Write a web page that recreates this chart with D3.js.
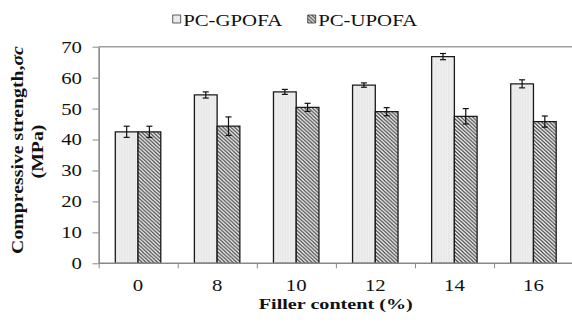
<!DOCTYPE html>
<html>
<head>
<meta charset="utf-8">
<script src="https://cdn.jsdelivr.net/npm/d3@7"></script>
<style>
  html, body { margin: 0; padding: 0; background: #fff; }
  svg { display: block; }
  text { font-family: "Liberation Serif", "Times New Roman", serif; fill: #111; }
</style>
</head>
<body>
<div id="chart"></div>
<script>
// Compressive strength vs filler content
const categories = ["0", "8", "10", "12", "14", "16"];
const seriesNames = ["PC-GPOFA", "PC-UPOFA"];
const gpofa = [42.5, 54.4, 55.4, 57.6, 66.8, 58.0];
const upofa = [42.5, 44.3, 50.4, 49.0, 47.5, 45.8];
const gpofaErr = [1.8, 1.0, 0.8, 0.7, 1.0, 1.3];
const upofaErr = [1.8, 3.0, 1.3, 1.3, 2.5, 1.8];
const yTicks = [0, 10, 20, 30, 40, 50, 60, 70];

// The drawing is laid out in a horizontally compressed space and stretched
// back out to the page width, giving the wide serif lettering.
const SX = 1.3;
const PW = 572, PH = 324;
const W = PW / SX, H = PH;

const plot = { left: 98.5 / SX, right: 573 / SX, top: 46.7, bottom: 263.3 };

const svg = d3.select("#chart").append("svg")
  .attr("width", PW).attr("height", PH)
  .attr("viewBox", [0, 0, W, H])
  .attr("preserveAspectRatio", "none");

const defs = svg.append("defs");
// light stippled fill
const dots = defs.append("pattern").attr("id", "dots")
  .attr("patternUnits", "userSpaceOnUse").attr("width", 2).attr("height", 3);
dots.append("rect").attr("width", 2).attr("height", 3).attr("fill", "#f0f0f0");
dots.append("rect").attr("x", 1).attr("y", 0).attr("width", 0.6).attr("height", 3).attr("fill", "#e0e0e0");
// diagonal hatch fill
const hatch = defs.append("pattern").attr("id", "hatch")
  .attr("patternUnits", "userSpaceOnUse").attr("width", 3).attr("height", 3.6);
hatch.append("rect").attr("width", 3).attr("height", 3.6).attr("fill", "#ffffff");
hatch.append("path")
  .attr("d", "M-1,-1.2 L4,4.8 M-4,-1.2 L1,4.8 M2,-1.2 L7,4.8")
  .attr("stroke", "#3a3a3a").attr("stroke-width", 1.05);

const fills = ["url(#dots)", "url(#hatch)"];

const x0 = d3.scaleBand().domain(categories).range([plot.left, plot.right]).padding(0);
const groupW = x0.bandwidth() * 0.575;
const x1 = d3.scaleBand().domain(seriesNames).range([0, groupW]).padding(0);
const y = d3.scaleLinear().domain([0, 70]).range([plot.bottom, plot.top]);

// top line at the axis maximum
svg.append("line")
  .attr("x1", plot.left).attr("x2", W)
  .attr("y1", y(70)).attr("y2", y(70))
  .attr("stroke", "#a0a0a0").attr("stroke-width", 1.4)
  .attr("vector-effect", "non-scaling-stroke");

// y axis
const yAxis = svg.append("g")
  .attr("transform", `translate(${plot.left},0)`)
  .call(d3.axisLeft(y).tickValues(yTicks).tickSize(6 / SX).tickSizeOuter(0).tickPadding(0));
yAxis.select(".domain").attr("stroke", "#888").attr("stroke-width", 1.6).attr("vector-effect", "non-scaling-stroke");
yAxis.selectAll(".tick line").attr("stroke", "#888").attr("stroke-width", 1).attr("vector-effect", "non-scaling-stroke");
yAxis.selectAll(".tick text")
  .attr("x", -16.5 / SX).attr("dy", "0.34em")
  .attr("font-size", 16).attr("fill", "#111");

// bars
const data = categories.map((c, i) => ({
  cat: c,
  vals: [
    { s: seriesNames[0], v: gpofa[i], e: gpofaErr[i], k: 0 },
    { s: seriesNames[1], v: upofa[i], e: upofaErr[i], k: 1 }
  ]
}));

const groups = svg.append("g").selectAll("g").data(data).join("g")
  .attr("transform", d => `translate(${x0(d.cat) + (x0.bandwidth() - groupW) / 2},0)`);

groups.selectAll("rect").data(d => d.vals).join("rect")
  .attr("x", d => x1(d.s))
  .attr("width", x1.bandwidth())
  .attr("y", d => y(d.v))
  .attr("height", d => y(0) - y(d.v))
  .attr("fill", d => fills[d.k])
  .attr("stroke", "#1a1a1a").attr("stroke-width", 1.3)
  .attr("vector-effect", "non-scaling-stroke");

// error bars
const capHalf = 3 / SX;
const eb = groups.selectAll("g.err").data(d => d.vals).join("g").attr("class", "err")
  .attr("transform", d => `translate(${x1(d.s) + x1.bandwidth() / 2},0)`);
eb.append("line").attr("y1", d => y(d.v + d.e)).attr("y2", d => y(d.v - d.e));
eb.append("line").attr("x1", -capHalf).attr("x2", capHalf).attr("y1", d => y(d.v + d.e)).attr("y2", d => y(d.v + d.e));
eb.append("line").attr("x1", -capHalf).attr("x2", capHalf).attr("y1", d => y(d.v - d.e)).attr("y2", d => y(d.v - d.e));
eb.selectAll("line").attr("stroke", "#111").attr("stroke-width", 1.2).attr("vector-effect", "non-scaling-stroke");

// x axis: labels at category centres, ticks at category boundaries
const xAxis = svg.append("g")
  .attr("transform", `translate(0,${plot.bottom})`)
  .call(d3.axisBottom(x0).tickSize(0).tickPadding(16));
xAxis.select(".domain").remove();
xAxis.selectAll(".tick text").attr("font-size", 16).attr("fill", "#111");

const edges = d3.scaleLinear().domain([0, categories.length]).range([plot.left, plot.right]);
const xEdges = svg.append("g")
  .attr("transform", `translate(0,${plot.bottom})`)
  .call(d3.axisBottom(edges).tickValues(d3.range(categories.length + 1)).tickFormat("").tickSize(5).tickSizeOuter(0));
xEdges.select(".domain").attr("d", `M${plot.left},0H${W}`)
  .attr("stroke", "#888").attr("stroke-width", 1.6).attr("vector-effect", "non-scaling-stroke");
xEdges.selectAll(".tick line").attr("stroke", "#888").attr("stroke-width", 1).attr("vector-effect", "non-scaling-stroke");

// axis titles
svg.append("text")
  .attr("x", (plot.left + plot.right) / 2).attr("y", 309.5)
  .attr("text-anchor", "middle").attr("font-size", 15.5).attr("font-weight", "bold")
  .text("Filler content (%)");

// rotated title, narrower across its lines than along them
const yScaleT = 0.68;
const yTitle = svg.append("text")
  .attr("transform", `translate(${23.4 / SX},150) scale(${yScaleT},1) rotate(-90)`)
  .attr("text-anchor", "middle").attr("font-size", 19.8).attr("font-weight", "bold");
yTitle.append("tspan").attr("x", 0).attr("y", 0).text("Compressive strength,");
yTitle.append("tspan").attr("font-style", "italic").text("σc");
svg.append("text")
  .attr("transform", `translate(${42.8 / SX},151.5) scale(${yScaleT},1) rotate(-90)`)
  .attr("text-anchor", "middle").attr("font-size", 19.8).attr("font-weight", "bold")
  .text("(MPa)");

// legend
const legendX = [172.7 / SX, 307.7 / SX];
const legend = svg.append("g").selectAll("g").data(seriesNames).join("g")
  .attr("transform", (d, i) => `translate(${legendX[i]},15)`);
legend.append("rect")
  .attr("width", 8 / SX).attr("height", 8)
  .attr("fill", (d, i) => fills[i])
  .attr("stroke", "#333").attr("stroke-width", 0.8)
  .attr("vector-effect", "non-scaling-stroke");
legend.append("text")
  .attr("x", 10.5 / SX).attr("y", 10.5)
  .attr("font-size", 16)
  .text(d => d);
</script>
</body>
</html>
